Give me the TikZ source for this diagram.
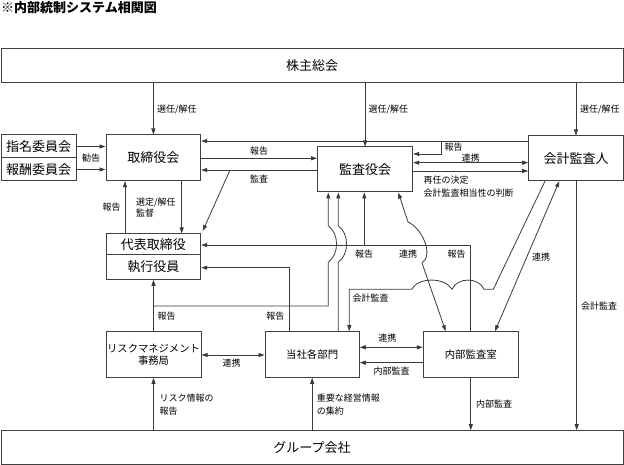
\documentclass[tikz,border=0pt]{standalone}
\usepackage{fontspec}
\setmainfont{Noto Sans CJK JP}
\usetikzlibrary{arrows.meta,calc}
\definecolor{boxc}{HTML}{404040}
\definecolor{linec}{HTML}{3A3A3A}
\tikzset{
  box/.style={draw=boxc, line width=1pt, inner sep=0pt, align=center, font=\fontsize{13}{15}\selectfont},
  sbox/.style={box, font=\fontsize{10.4}{12.4}\selectfont},
  lbl/.style={inner sep=0pt, align=left, font=\fontsize{9}{13}\selectfont},
  ln/.style={draw=linec, line width=0.8pt},
  arr/.style={ln, -{Triangle[length=6pt,width=4pt]}},
  darr/.style={ln, {Triangle[length=6pt,width=4pt]}-{Triangle[length=6pt,width=4pt]}}
}
\begin{document}
\begin{tikzpicture}[x=1pt,y=-1pt]
\useasboundingbox (0,0) rectangle (624,465);
\node[anchor=west, inner sep=0pt, font=\bfseries\fontsize{13}{15}\selectfont] (title) at (1,7.5) {※内部統制システム相関図};

% boxes
\node[box, minimum width=622pt, minimum height=33.7pt] (kabu) at (312,65.85) {株主総会};
\node[box, minimum width=94.7pt, minimum height=45.7pt] (tori) at (153.35,157.85) {取締役会};
\node[box, minimum width=75pt, minimum height=23pt] (shimei) at (38.5,146.5) {指名委員会};
\node[box, minimum width=75pt, minimum height=23pt] (houshu) at (38.5,169.5) {報酬委員会};
\node[box, minimum width=95.2pt, minimum height=45pt] (kansa) at (365.1,169.5) {監査役会};
\node[box, minimum width=94.6pt, minimum height=44.7pt] (kaikei) at (576,158.35) {会計監査人};
\node[box, minimum width=94.7pt, minimum height=21pt] (daihyo) at (153.35,244.5) {代表取締役};
\node[box, minimum width=94.7pt, minimum height=24.3pt] (shikkou) at (153.35,267.15) {執行役員};
\node[sbox, minimum width=95pt, minimum height=45.6pt, font=\fontsize{10.3}{12.4}\selectfont] (risk) at (153.5,354.5) {リスクマネジメント\\事務局};
\node[sbox, minimum width=94.3pt, minimum height=45.6pt] (kakubu) at (312.15,354.5) {当社各部門};
\node[sbox, minimum width=95pt, minimum height=45.6pt] (naibu) at (470.8,354.5) {内部監査室};
\node[box, minimum width=622pt, minimum height=33.3pt] (group) at (312,447.35) {グループ会社};

% shareholders
\draw[arr] (kabu.south -| tori.north) -- (tori.north);
\draw[arr] (kabu.south -| kansa.north) -- (kansa.north);
\draw[arr] (kabu.south -| kaikei.north) -- (kaikei.north);
\node[lbl, anchor=west] (l1) at (157,109.3) {選任/解任};
\node[lbl, anchor=west] (l2) at (368.5,109.3) {選任/解任};
\node[lbl, anchor=west] (l3) at (580,109.3) {選任/解任};

% committees
\draw[arr] (shimei.east) -- (shimei.east -| tori.west);
\draw[arr] (houshu.east) -- (houshu.east -| tori.west);
\node[lbl] (l4) at (91,158.3) {勧告};

% kaikei -> tori / kansa report
\coordinate (k1) at (441.7,141);
\coordinate (k2) at (441.7,154);
\draw[arr] (kaikei.west |- k1) -- (tori.east |- k1);
\draw[arr] (k1) -- (k2) -- (kansa.east |- k2);
\node[lbl, anchor=west] (l5) at (444.5,147.3) {報告};

% tori <-> kansa
\draw[arr] (tori.east |- 0,158.3) -- (kansa.west |- 0,158.3);
\node[lbl] (l6) at (259,150.7) {報告};
\coordinate (m1) at (230,170);
\draw[arr] (kansa.west |- m1) -- (tori.east |- m1);
\draw[arr] (m1) -- ([shift={(1.5,-2.5)}]daihyo.north east);
\node[lbl] (l7) at (259,179) {監査};

% kansa <-> kaikei
\draw[darr] (kansa.east |- 0,162.7) -- (kaikei.west |- 0,162.7);
\node[lbl] (l8) at (470.7,157.7) {連携};
\draw[arr] (kansa.east |- 0,171) -- (kaikei.west |- 0,171);
\node[lbl, anchor=west] (l9) at (423.5,186.5) {再任の決定\\会計監査相当性の判断};

% tori <-> daihyo
\draw[arr] (tori.south -| 181.7,0) -- (daihyo.north -| 181.7,0);
\node[lbl, anchor=west, font=\fontsize{9}{11.5}\selectfont] (l10) at (136,207.4) {選定/解任\\監督};
\draw[arr] (daihyo.north -| 125,0) -- (tori.south -| 125,0);
\node[lbl] (l11) at (111.7,207) {報告};

% naibu -> daihyo / kansa
\coordinate (n1) at (470.8,245);
\coordinate (n2) at (364.3,245);
\draw[arr] (naibu.north) -- (n1) -- (daihyo.east |- n1);
\draw[arr] (n2) -- (kansa.south -| n2);
\node[lbl] (l12) at (364,254) {報告};
\node[lbl] (l13) at (408,254) {連携};
\node[lbl] (l14) at (456.7,254) {報告};

% kakubu -> kansa (jump)
\draw[arr] (kakubu.north -| 338.3,0) -- (338.3,262) .. controls (349.3,255) and (349.3,233) .. (338.3,226) -- (kansa.south -| 338.3,0);

% risk -> shikkou, branch -> kansa (jump)
\coordinate (r1) at (153.5,306);
\draw[arr] (risk.north) -- (risk.north |- shikkou.south);
\draw[arr] (r1) -- (328.3,306) -- (328.3,262) .. controls (339.3,255) and (339.3,233) .. (328.3,226) -- (kansa.south -| 328.3,0);
\node[lbl] (l15) at (166.7,316) {報告};

% kakubu -> shikkou
\draw[arr] (kakubu.north -| 289,0) -- (289,267.7) -- (shikkou.east |- 0,267.7);
\node[lbl] (l16) at (275.3,316) {報告};

% kaikei -> kakubu (accounting audit, with jumps)
\draw[arr] (kaikei.south -| 545,0) -- (493.3,289.3) -- (484,289.3) .. controls (479,277) and (457,277) .. (452,289.3) .. controls (445,277) and (418,277) .. (411.7,289.3) -- (349.3,289.3) -- (kakubu.north -| 349.3,0);
\node[lbl, anchor=west] (l17) at (352.5,297.7) {会計監査};

% kaikei <-> naibu
\draw[darr] (kaikei.south -| 559.3,0) -- (naibu.north -| 495,0);
\node[lbl] (l18) at (541,257.3) {連携};

% kaikei -> group
\draw[arr] (kaikei.south -| 576.7,0) -- (group.north -| 576.7,0);
\node[lbl] (l19) at (599,306) {会計監査};

% kansa <-> naibu (jump)
\draw[darr] (kansa.south -| 398.3,0) -- (408,222) .. controls (422,228) and (434,255) .. (422,263) -- (naibu.north -| 445.7,0);

% kakubu <-> naibu
\draw[darr] (kakubu.east |- 0,347.3) -- (naibu.west |- 0,347.3);
\node[lbl] (l20) at (387.3,338.3) {連携};
\draw[arr] (naibu.west |- 0,362.7) -- (kakubu.east |- 0,362.7);
\node[lbl] (l21) at (391.7,370.7) {内部監査};

% risk <-> kakubu
\draw[darr] (risk.east |- 0,355) -- (kakubu.west |- 0,355);
\node[lbl] (l22) at (231.7,363.3) {連携};

% group connections
\draw[arr] (group.north -| risk.south) -- (risk.south);
\node[lbl, anchor=west] (l23) at (159.4,405) {リスク情報の\\報告};
\draw[arr] (group.north -| kakubu.south) -- (kakubu.south);
\node[lbl, anchor=west] (l24) at (316.7,405) {重要な経営情報\\の集約};
\draw[arr] (naibu.south) -- (group.north -| naibu.south);
\node[lbl, anchor=west] (l25) at (476,404.3) {内部監査};
\end{tikzpicture}
\end{document}
